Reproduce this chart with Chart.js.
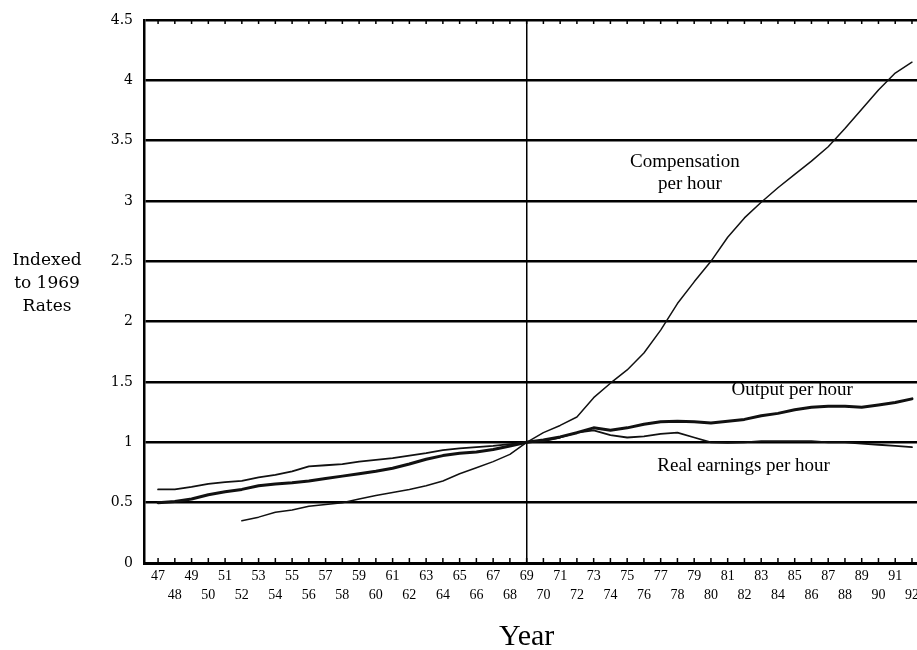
<!DOCTYPE html>
<html>
<head>
<meta charset="utf-8">
<script src="https://cdn.jsdelivr.net/npm/chart.js@4.4.1/dist/chart.umd.min.js"></script>
<style>
  body { margin: 0; background: #fff; }
  canvas { display: block; }
</style>
</head>
<body>
<canvas id="myChart" width="917" height="650"></canvas>
<script>
// Years on the x axis (19xx)
const years = [47, 48, 49, 50, 51, 52, 53, 54, 55, 56, 57, 58, 59, 60, 61, 62, 63, 64, 65, 66, 67, 68, 69,
  70, 71, 72, 73, 74, 75, 76, 77, 78, 79, 80, 81, 82, 83, 84, 85, 86, 87, 88, 89, 90, 91, 92];

// Series, indexed to 1969 = 1
const compensation = [null, null, null, null, null, 0.35, 0.38, 0.42, 0.44, 0.47, 0.485, 0.50, 0.53, 0.56, 0.585, 0.61,
  0.64, 0.68, 0.74, 0.79, 0.84, 0.90, 1.00, 1.08, 1.14, 1.21, 1.37, 1.49, 1.60, 1.74, 1.93, 2.15, 2.33, 2.50,
  2.70, 2.86, 2.99, 3.11, 3.22, 3.33, 3.45, 3.60, 3.76, 3.92, 4.06, 4.15];
const outputPerHour = [0.50, 0.51, 0.53, 0.565, 0.59, 0.61, 0.64, 0.655, 0.665, 0.68, 0.70, 0.72, 0.74, 0.76, 0.785,
  0.82, 0.86, 0.89, 0.91, 0.92, 0.94, 0.97, 1.00, 1.02, 1.045, 1.08, 1.12, 1.10, 1.12, 1.15, 1.17, 1.175, 1.17,
  1.16, 1.175, 1.19, 1.22, 1.24, 1.27, 1.29, 1.30, 1.30, 1.29, 1.31, 1.33, 1.36];
const realEarnings = [0.61, 0.61, 0.63, 0.655, 0.67, 0.68, 0.71, 0.73, 0.76, 0.80, 0.81, 0.82, 0.84, 0.855, 0.87,
  0.89, 0.91, 0.935, 0.95, 0.96, 0.97, 0.985, 1.00, 1.01, 1.04, 1.08, 1.10, 1.06, 1.04, 1.05, 1.07, 1.08, 1.04,
  1.00, 0.995, 1.00, 1.01, 1.01, 1.01, 1.01, 1.00, 1.00, 0.99, 0.98, 0.97, 0.96];

const yTicks = [0, 0.5, 1, 1.5, 2, 2.5, 3, 3.5, 4, 4.5];

// Labels written on the plot (text, year, value)
const seriesLabels = [
  ['Compensation', 78.45, 3.32],
  ['per hour', 78.75, 3.14],
  ['Output per hour', 84.85, 1.435],
  ['Real earnings per hour', 81.95, 0.80]
];
const yTitle = ['Indexed', 'to 1969', 'Rates'];
const xTitle = 'Year';

const toPoints = arr => years.map((yr, i) => ({ x: yr, y: arr[i] }));

// Small year ticks inside the frame, titles and series labels
const decorations = {
  id: 'decorations',
  afterDraw(chart) {
    const { ctx, chartArea, scales } = chart;
    ctx.save();
    ctx.strokeStyle = '#000';
    ctx.lineWidth = 1.5;
    years.forEach(yr => {
      const px = scales.x.getPixelForValue(yr);
      ctx.beginPath();
      ctx.moveTo(px, chartArea.bottom);
      ctx.lineTo(px, chartArea.bottom - 5);
      ctx.moveTo(px, chartArea.top);
      ctx.lineTo(px, chartArea.top + 4);
      ctx.stroke();
    });

    ctx.fillStyle = '#000';
    ctx.textAlign = 'center';
    ctx.textBaseline = 'middle';
    ctx.font = '19px "Liberation Serif"';
    seriesLabels.forEach(([text, yr, v]) => {
      ctx.fillText(text, scales.x.getPixelForValue(yr), scales.y.getPixelForValue(v));
    });

    ctx.font = '17px "DejaVu Serif"';
    yTitle.forEach((line, i) => ctx.fillText(line, 47, 261 + i * 23));

    ctx.font = '30px "Liberation Serif"';
    ctx.textBaseline = 'alphabetic';
    ctx.fillText(xTitle, scales.x.getPixelForValue(69), 645);
    ctx.restore();
  }
};

const ctx = document.getElementById('myChart').getContext('2d');
const myChart = new Chart(ctx, {
  type: 'line',
  data: {
    datasets: [
      { label: 'Compensation per hour', data: toPoints(compensation), borderColor: '#111', borderWidth: 1.5 },
      { label: 'Output per hour', data: toPoints(outputPerHour), borderColor: '#111', borderWidth: 3 },
      { label: 'Real earnings per hour', data: toPoints(realEarnings), borderColor: '#111', borderWidth: 1.8 }
    ]
  },
  options: {
    responsive: false,
    animation: false,
    spanGaps: false,
    layout: { padding: { top: 20, right: 0, bottom: 0, left: 0 } },
    elements: {
      point: { radius: 0 },
      line: { tension: 0, borderCapStyle: 'round', borderJoinStyle: 'round' }
    },
    plugins: {
      legend: { display: false },
      tooltip: { enabled: false }
    },
    scales: {
      x: {
        type: 'linear',
        min: 46.16,
        max: 92.3,
        afterBuildTicks: axis => { axis.ticks = years.map(v => ({ value: v })); },
        afterFit: axis => { axis.height = 87; axis.paddingRight = 0; axis.paddingLeft = 0; },
        ticks: {
          autoSkip: false,
          maxRotation: 0,
          padding: 4,
          color: '#000',
          font: { family: '"Liberation Serif"', size: 14, lineHeight: 1.35 },
          callback: v => (v % 2 ? [String(v), ''] : ['', String(v)])
        },
        grid: {
          drawTicks: false,
          lineWidth: 1.5,
          color: c => (c.tick && c.tick.value === 69 ? '#000' : 'rgba(0,0,0,0)')
        },
        border: { color: '#000', width: 3 }
      },
      y: {
        min: 0,
        max: 4.5,
        afterBuildTicks: axis => { axis.ticks = yTicks.map(v => ({ value: v })); },
        afterFit: axis => { axis.width = 144; axis.paddingTop = 0; axis.paddingBottom = 0; },
        ticks: {
          padding: 11,
          color: '#000',
          font: { family: '"DejaVu Serif"', size: 14 },
          callback: v => String(v)
        },
        grid: { drawTicks: false, color: '#000', lineWidth: 2.5 },
        border: { color: '#000', width: 2.5 }
      }
    }
  },
  plugins: [decorations]
});
</script>
</body>
</html>
